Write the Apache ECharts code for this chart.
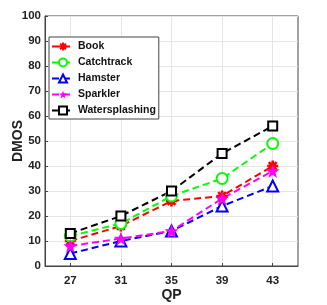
<!DOCTYPE html>
<html><head><meta charset="utf-8">
<script src="https://cdn.jsdelivr.net/npm/echarts@6/dist/echarts.min.js"></script>
<style>html,body{margin:0;padding:0;background:#fff}#c{width:327px;height:305px}</style>
</head><body><div id="c"></div>
<script>
const categories = ['27', '31', '35', '39', '43'];
const book = [10, 16, 26, 28, 40];
const catchtrack = [12, 17, 28, 35, 49];
const hamster = [5, 10, 14, 24, 32];
const sparkler = [8, 11, 14, 27, 38];
const watersplashing = [13, 20, 30, 45, 56];
const seriesNames = ['Book', 'Catchtrack', 'Hamster', 'Sparkler', 'Watersplashing'];

const FONT = '"Liberation Sans", Arial, sans-serif';
const asterisk = 'path://M-1.2,-5L1.2,-5L1.2,5L-1.2,5Z M-5,-1.2L5,-1.2L5,1.2L-5,1.2Z M-4.4,-2.7L-2.7,-4.4L4.4,2.7L2.7,4.4Z M2.7,-4.4L4.4,-2.7L-2.7,4.4L-4.4,2.7Z';
const star = 'path://M0,-10L2.35,-3.24L9.51,-3.09L3.80,1.24L5.88,8.09L0,4L-5.88,8.09L-3.80,1.24L-9.51,-3.09L-2.35,-3.24Z';

function mk(name, data, color, symbol, size, filled) {
  return {
    name, type: 'line', data,
    symbol, symbolSize: size,
    showAllSymbol: true,
    lineStyle: { color, width: 2, type: [7, 4] },
    itemStyle: { color: filled ? color : '#fff', borderColor: color, borderWidth: filled ? 0 : 2 },
    emphasis: { disabled: true },
    animation: false
  };
}

const chart = echarts.init(document.getElementById('c'), null, { renderer: 'canvas' });
chart.setOption({
  animation: false,
  grid: { left: 45, right: 29, top: 16, bottom: 39, containLabel: false, outerBoundsMode: 'none',
          show: true, borderColor: '#444', borderWidth: 1, backgroundColor: 'transparent' },
  legend: {
    orient: 'vertical', left: 49, top: 37,
    data: seriesNames,
    backgroundColor: '#fff', borderColor: '#444', borderWidth: 1,
    padding: [4, 3, 3, 2], itemGap: 5, itemWidth: 22, itemHeight: 10,
    textStyle: { fontFamily: FONT, fontWeight: 'bold', fontSize: 10.5, lineHeight: 11, color: '#111', padding: [0, 0, 0, -1] }
  },
  xAxis: {
    type: 'category', data: categories, boundaryGap: true,
    name: 'QP', nameLocation: 'middle', nameGap: 22, nameMoveOverlap: false,
    nameTextStyle: { fontFamily: FONT, fontWeight: 'bold', fontSize: 14, color: '#222' },
    axisLine: { lineStyle: { color: '#444' } },
    axisTick: { show: true, alignWithLabel: true, inside: true, length: 3, lineStyle: { color: '#444' } },
    axisLabel: { fontFamily: FONT, fontWeight: 'bold', fontSize: 11.5, color: '#222', margin: 9 },
    splitLine: { show: true, alignWithLabel: true, lineStyle: { color: '#e5e5e5' } }
  },
  yAxis: {
    type: 'value', min: 0, max: 100, interval: 10,
    name: 'DMOS', nameLocation: 'middle', nameGap: 20, nameMoveOverlap: false,
    nameTextStyle: { fontFamily: FONT, fontWeight: 'bold', fontSize: 14, color: '#222' },
    axisLine: { show: true, lineStyle: { color: '#444' } },
    axisTick: { show: true, inside: true, length: 3, lineStyle: { color: '#444' } },
    axisLabel: { fontFamily: FONT, fontWeight: 'bold', fontSize: 11.5, color: '#222', margin: 4 },
    splitLine: { show: true, lineStyle: { color: '#e5e5e5' } }
  },
  series: [
    mk('Book', book, '#ff0000', asterisk, 11, true),
    mk('Catchtrack', catchtrack, '#00ff00', 'circle', 11, false),
    mk('Hamster', hamster, '#0000ff', 'triangle', 11, false),
    mk('Sparkler', sparkler, '#ff00ff', star, 14, true),
    mk('Watersplashing', watersplashing, '#000000', 'rect', 9, false)
  ]
});
</script></body></html>
